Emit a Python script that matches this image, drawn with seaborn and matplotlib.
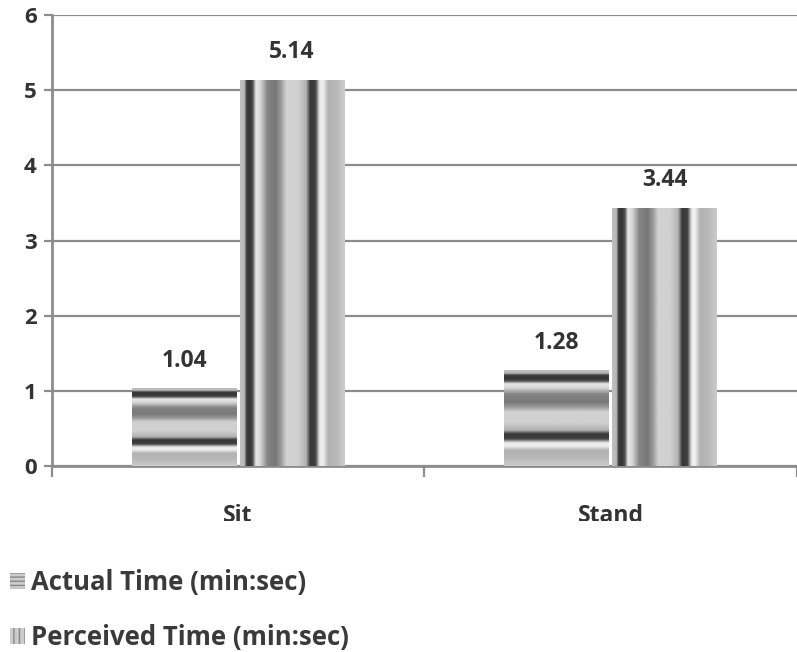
import numpy as np
import pandas as pd
import seaborn as sns
import matplotlib.pyplot as plt
from matplotlib.patches import Patch, Rectangle

categories = ["Sit", "Stand"]
actual = [1.04, 1.28]
perceived = [5.14, 3.44]
series = ["Actual Time (min:sec)", "Perceived Time (min:sec)"]
yticks = [0, 1, 2, 3, 4, 5, 6]
value_labels = [["1.04", "1.28"], ["5.14", "3.44"]]

df = pd.DataFrame({
    "Posture": categories * 2,
    "Time": actual + perceived,
    "Series": [series[0]] * len(categories) + [series[1]] * len(categories),
})

sns.set_style("white")
plt.rcParams['font.family'] = ['Open Sans', 'DejaVu Sans']

fig = plt.figure(figsize=(7.97, 6.52), dpi=100)
ax = fig.add_axes([0.065, 0.285, 0.935, 0.692])

sns.barplot(data=df, x="Posture", y="Time", hue="Series", hue_order=series,
            palette=["#bbbbbb", "#bbbbbb"], width=0.58, gap=0.03,
            legend=False, ax=ax, zorder=3, linewidth=0)

# stripe texture profile (0 = black, 1 = white)
pos = [0, 0.04, 0.06, 0.09, 0.12, 0.15, 0.19, 0.26, 0.34, 0.39, 0.44, 0.55, 0.63, 0.67, 0.72, 0.76, 0.79, 0.84, 0.92, 1.0]
val = [0.75, 0.72, 0.25, 0.2, 0.3, 0.9, 0.85, 0.52, 0.47, 0.6, 0.82, 0.82, 0.7, 0.22, 0.25, 0.9, 0.95, 0.7, 0.72, 0.8]
t = np.linspace(0, 1, 200)
prof = np.interp(t, pos, val)

for i, cont in enumerate(ax.containers):
    for patch in cont.patches:
        x0, y0 = patch.get_x(), patch.get_y()
        w, h = patch.get_width(), patch.get_height()
        if i == 0:
            arr = prof.reshape(-1, 1)
        else:
            arr = prof.reshape(1, -1)
        im = ax.imshow(arr, extent=[x0, x0 + w, y0, y0 + h], origin='upper',
                       aspect='auto', cmap='gray', vmin=0, vmax=1,
                       interpolation='bilinear', zorder=4)
        im.set_clip_path(patch)
    ax.bar_label(cont, labels=value_labels[i], padding=11, fontsize=16.5,
                 color='#333333', fontweight='bold', zorder=5)

ax.set_xlim(-0.5, 1.5)
ax.set_ylim(0, 6)
ax.set_yticks(yticks)
ax.yaxis.grid(True, color='#8c8c8c', linewidth=1.6)
ax.xaxis.grid(False)
ax.set_axisbelow(True)
ax.set_xlabel("")
ax.set_ylabel("")

for s in ['top', 'right']:
    ax.spines[s].set_visible(False)
for s in ['left', 'bottom']:
    ax.spines[s].set_color('#8c8c8c')
    ax.spines[s].set_linewidth(2)

ax.tick_params(axis='y', length=6, width=1.6, color='#8c8c8c', labelsize=16,
               labelcolor='#333333', pad=5, left=True)
for lab in ax.get_yticklabels():
    lab.set_fontweight('bold')
ax.tick_params(axis='x', which='major', length=0, labelsize=16.5,
               labelcolor='#333333', pad=27)
for lab in ax.get_xticklabels():
    lab.set_fontweight('bold')
ax.set_xticks([-0.5, 0.5, 1.5], minor=True)
ax.tick_params(axis='x', which='minor', length=8, width=1.6, color='#8c8c8c',
               bottom=True)

# white panel overlapping the bottom of the category labels (as in the source image)
fig.add_artist(Rectangle((0, 0), 1, 1 - 521 / 652, transform=fig.transFigure,
                         facecolor='white', edgecolor='none', zorder=1))

handles = [Patch(facecolor='#cccccc', edgecolor='#888888', hatch='----', linewidth=0),
           Patch(facecolor='#cccccc', edgecolor='#888888', hatch='|||', linewidth=0)]
leg = fig.legend(handles, series, loc='upper left', bbox_to_anchor=(0.012, 1 - 569 / 652),
                 frameon=False, fontsize=18.5, handlelength=0.6, handleheight=0.6,
                 handletextpad=0.25, labelspacing=1.1, borderpad=0, borderaxespad=0)
leg.set_zorder(5)
for txt in leg.get_texts():
    txt.set_color('#3a3a3a')
    txt.set_fontweight('bold')

fig.savefig("out.png", dpi=100)
